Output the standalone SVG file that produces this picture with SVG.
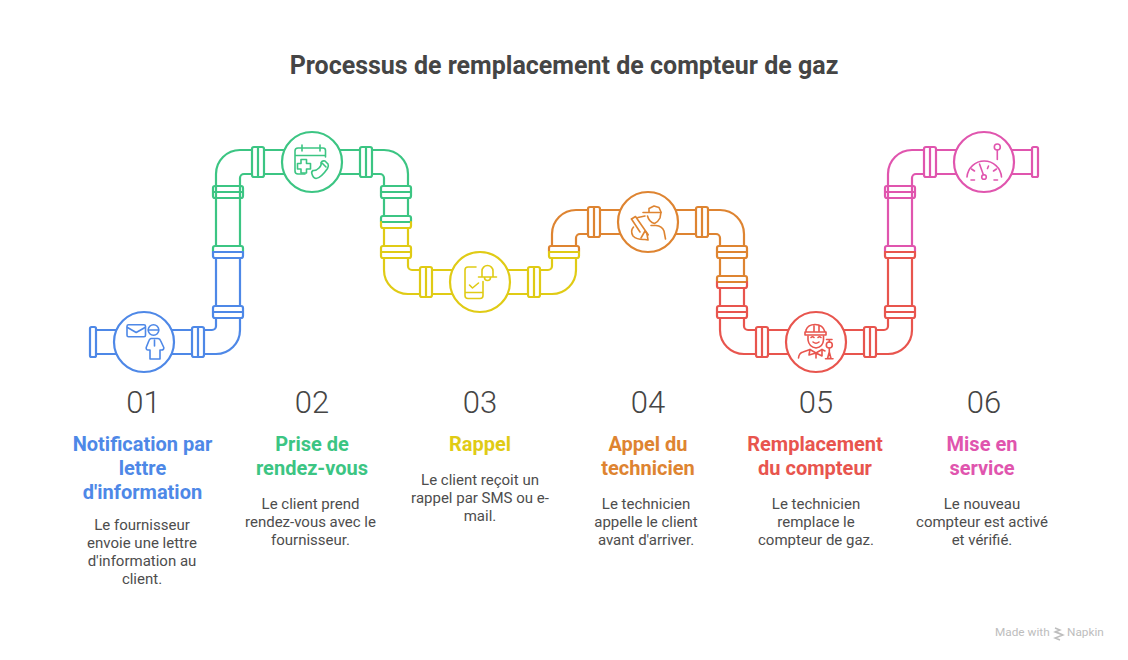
<svg xmlns="http://www.w3.org/2000/svg" width="1128" height="660" viewBox="0 0 1128 660">
<style>
text{font-family:Roboto,"Liberation Sans",sans-serif;text-anchor:middle}
.title{font-size:25px;font-weight:700;fill:#454545}
.num{font-size:31px;font-weight:300;fill:#454545}
.head{font-size:20px;font-weight:700}
.body{font-size:15px;font-weight:400;fill:#4d4d4d}
.mark{font-size:11.800px;fill:#bdbdbd;text-anchor:start}
.pipe,.ic,.disc,.clamp use,.flange{fill:none;stroke-width:2.2;stroke-linecap:round;stroke-linejoin:round}
.disc{fill:#fff}
.blue{stroke:#4e88e7}.green{stroke:#3cc583}.yellow{stroke:#e0cb15}.orange{stroke:#de8431}.red{stroke:#e8554e}.pink{stroke:#e055ae}
.tblue{fill:#4e88e7}.tgreen{fill:#3cc583}.tyellow{fill:#e0cb15}.torange{fill:#de8431}.tred{fill:#e8554e}.tpink{fill:#e055ae}
.ic{stroke-width:1.6}
</style>
<defs>
<g id="cv"><rect x="0" y="0" width="12" height="30" rx="2"/><path d="M6 0V30"/></g>
<g id="ch"><rect x="0" y="0" width="30" height="12" rx="2"/><path d="M0 6H30"/></g>
<path id="ct" d="M0 6V2a2 2 0 0 1 2-2H28a2 2 0 0 1 2 2V6"/>
<path id="cb" d="M0 6V10a2 2 0 0 0 2 2H28a2 2 0 0 0 2-2V6"/>
<path id="cm" d="M0 6H30"/>
</defs>
<rect width="1128" height="660" fill="#fff"/>
<text class="title" x="564" y="74">Processus de remplacement de compteur de gaz</text>
<g id="connectors">
<path class="pipe blue" d="M96 330H192M96 354H192M204 330H212a4 4 0 0 0 4-4V318M204 354H216A24 24 0 0 0 240 330V318M216 306V258M240 306V258"/>
<path class="pipe green" d="M216 246V174A24 24 0 0 1 240 150H252M240 246V178a4 4 0 0 1 4-4H252M264 150H360M264 174H360M372 150H384A24 24 0 0 1 408 174V186M372 174H380a4 4 0 0 1 4 4V186M384 198V216M408 198V216"/>
<path class="pipe yellow" d="M384 228V246M408 228V246M384 258V270A24 24 0 0 0 408 294H420M408 258V266a4 4 0 0 0 4 4H420M432 270H528M432 294H528M540 294H552A24 24 0 0 0 576 270V258M540 270H548a4 4 0 0 0 4-4V258"/>
<path class="pipe orange" d="M552 246V234A24 24 0 0 1 576 210H588M576 246V238a4 4 0 0 1 4-4H588M600 210H696M600 234H696M708 210H720A24 24 0 0 1 744 234V246M708 234H716a4 4 0 0 1 4 4V246M720 258V276M744 258V276"/>
<path class="pipe red" d="M720 288V306M744 288V306M720 318V330A24 24 0 0 0 744 354H756M744 318V326a4 4 0 0 0 4 4H756M768 330H864M768 354H864M876 354H888A24 24 0 0 0 912 330V318M876 330H884a4 4 0 0 0 4-4V318M888 306V258M912 306V258"/>
<path class="pipe pink" d="M888 246V174A24 24 0 0 1 912 150H924M912 246V178a4 4 0 0 1 4-4H924M936 150H1032M936 174H1032"/>
<g class="clamp">
<g class="green"><use href="#ct" x="213" y="246"/><use href="#ch" x="213" y="186"/><use href="#cv" x="252" y="147"/><use href="#cv" x="360" y="147"/><use href="#ch" x="381" y="186"/><use href="#ct" x="381" y="216"/><use href="#cm" x="381" y="216"/></g>
<g class="blue"><rect class="flange" x="90" y="327" width="6" height="30" rx="1.500"/><use href="#cv" x="192" y="327"/><use href="#ch" x="213" y="306"/><use href="#cb" x="213" y="246"/><use href="#cm" x="213" y="246"/></g>
<g class="orange"><use href="#ct" x="549" y="246"/><use href="#cv" x="588" y="207"/><use href="#cv" x="696" y="207"/><use href="#ch" x="717" y="246"/><use href="#ct" x="717" y="276"/><use href="#cm" x="717" y="276"/></g>
<g class="yellow"><use href="#cb" x="381" y="216"/><use href="#ch" x="381" y="246"/><use href="#cv" x="420" y="267"/><use href="#cv" x="528" y="267"/><use href="#cb" x="549" y="246"/><use href="#cm" x="549" y="246"/></g>
<g class="pink"><use href="#ct" x="885" y="246"/><use href="#ch" x="885" y="186"/><use href="#cv" x="924" y="147"/><rect class="flange" x="1032" y="147" width="6" height="30" rx="1.500"/></g>
<g class="red"><use href="#cb" x="717" y="276"/><use href="#ch" x="717" y="306"/><use href="#cv" x="756" y="327"/><use href="#cv" x="864" y="327"/><use href="#ch" x="885" y="306"/><use href="#cb" x="885" y="246"/><use href="#cm" x="885" y="246"/></g>
</g>
</g>
<g id="node-01">
<circle class="disc blue" cx="144" cy="342" r="30"/>
<g class="ic blue">
<rect x="127" y="324.800" width="18.500" height="12" rx="1.500"/>
<path d="M127.500 327.500L136.200 332.500L145 327.500"/>
<circle cx="153.500" cy="330" r="5.300"/><path d="M148.500 330H158.500"/>
<path d="M151 338.500H158A3 3 0 0 1 160.500 340.500L163.800 347.500Q164 350 161.500 350H160V359H150V350H148Q146 350 146.200 347.500L149 340.500Q149.500 339 151 338.500Z"/>
<path d="M154.500 340V346"/>
</g>
<text class="num" x="143.500" y="413">01</text>
<text class="head tblue" x="142.500" y="451">Notification par</text>
<text class="head tblue" x="142.500" y="475">lettre</text>
<text class="head tblue" x="142.500" y="499">d'information</text>
<text class="body" x="142" y="530">Le fournisseur</text>
<text class="body" x="142" y="548">envoie une lettre</text>
<text class="body" x="142" y="566">d'information au</text>
<text class="body" x="142" y="584">client.</text>
</g>
<g id="node-02">
<circle class="disc green" cx="312" cy="162" r="30"/>
<g class="ic green">
<path d="M305 174H298a3 3 0 0 1-3-3V151a3 3 0 0 1 3-3H302M302 145V151M302 148H320M320 145V151M320 148H323a2.500 2.500 0 0 1 2.500 2.500V157M295 155.500H325.500"/>
<path d="M301 159.500H306.500V163.500H310.500V169H306.500V173H301V169H297.500V163.500H301Z"/>
<path d="M312 174Q311 172 313 170.500Q316 171 319 168Q322 165 321 162.500Q322 160.500 325 161L328 164Q329 166 327.500 168.500Q321 178 316 178.500Q313 178 312 174Z"/>
<path d="M322 163L326 167"/>
</g>
<text class="num" x="312" y="413">02</text>
<text class="head tgreen" x="312" y="451">Prise de</text>
<text class="head tgreen" x="312" y="475">rendez-vous</text>
<text class="body" x="310.500" y="509">Le client prend</text>
<text class="body" x="310.500" y="527">rendez-vous avec le</text>
<text class="body" x="310.500" y="545">fournisseur.</text>
</g>
<g id="node-03">
<circle class="disc yellow" cx="480" cy="282" r="30"/>
<g class="ic yellow">
<path d="M476 267H468a3 3 0 0 0-3 3V295.500a3 3 0 0 0 3 3H480a3 3 0 0 0 3-3V281.500M465 292.500H483"/>
<path d="M469.500 285L472.500 288L478.500 283"/>
<path d="M478.500 277H496.500M482 277V271a5.500 5.500 0 0 1 11 0V277M484.500 277.500a3 3 0 0 0 6 0"/>
</g>
<text class="num" x="480" y="413">03</text>
<text class="head tyellow" x="480" y="451">Rappel</text>
<text class="body" x="480" y="485">Le client reçoit un</text>
<text class="body" x="480" y="503">rappel par SMS ou e-</text>
<text class="body" x="480" y="521">mail.</text>
</g>
<g id="node-04">
<circle class="disc orange" cx="648" cy="222" r="30"/>
<g class="ic orange">
<path d="M643 212.500H661"/>
<path d="M649 212V208.500L654 206L659 207.500L661 212L660 218Q658 222 654.500 223.500Q649 222 647.500 216"/>
<path d="M651 225.500H656Q662 226 664 231L665.500 239"/>
<path d="M638 217.500L645 216M631.500 219L635.500 216.500L648 234.500"/>
<path d="M631.500 219L640 232M633.500 227Q630 231 633 236Q637 240 645 239.500L648 240L647 234"/>
<path d="M641 238L645 231L648 235"/>
</g>
<text class="num" x="648" y="413">04</text>
<text class="head torange" x="648" y="451">Appel du</text>
<text class="head torange" x="648" y="475">technicien</text>
<text class="body" x="646" y="509">Le technicien</text>
<text class="body" x="646" y="527">appelle le client</text>
<text class="body" x="646" y="545">avant d'arriver.</text>
</g>
<g id="node-05">
<circle class="disc red" cx="816" cy="342" r="30"/>
<g class="ic red">
<path d="M806 332V330Q808 324.500 815 324.500Q823 324.500 825 332M805 332H826V335H805ZM814 325V331M819 325.500V331"/>
<path d="M808 336V340Q809 347 816 348Q823 347 823.500 340V336"/>
<path d="M811 337.500q1.500-1.500 3 0M818 337.500q1.500-1.500 3 0M813 342q3 2.500 6 0"/>
<path d="M798.500 358Q799 353 803 352L810 349.500L816 353L822 349.500L825 351"/>
<path d="M810 349.500L809 355L816 353L822 356L822 349.500M816 353V358"/>
<circle cx="829.300" cy="345" r="3"/>
<path d="M826.500 339.500H832M829.300 340V342M829.300 348V352L831 358.500H827.500L829.300 352M825.500 358.800H833"/>
</g>
<text class="num" x="816" y="413">05</text>
<text class="head tred" x="815" y="451">Remplacement</text>
<text class="head tred" x="815" y="475">du compteur</text>
<text class="body" x="816" y="509">Le technicien</text>
<text class="body" x="816" y="527">remplace le</text>
<text class="body" x="816" y="545">compteur de gaz.</text>
</g>
<g id="node-06">
<circle class="disc pink" cx="984" cy="162" r="30"/>
<g class="ic pink">
<circle cx="997.300" cy="147" r="3"/><path d="M997.300 150V159.500"/>
<path d="M967 177A17.300 17.300 0 0 1 1001.500 177"/>
<circle cx="984" cy="177" r="2.300"/><path d="M979.500 164L983.300 174.500"/>
<path d="M971.500 169L974.500 171M971 180H974.500M988.500 166L987.500 168.500M996.500 169L993.500 171M994 180H997.500"/>
</g>
<text class="num" x="984" y="413">06</text>
<text class="head tpink" x="982" y="451">Mise en</text>
<text class="head tpink" x="982" y="475">service</text>
<text class="body" x="982" y="509">Le nouveau</text>
<text class="body" x="982" y="527">compteur est activé</text>
<text class="body" x="982" y="545">et vérifié.</text>
</g>
<g id="watermark">
<text class="mark" x="995" y="636">Made with</text>
<path d="M1055 628L1060 630L1055 632L1063 635L1055 638L1060 640M1055 631.500L1063 635" fill="none" stroke="#bdbdbd" stroke-width="1.400"/>
<text class="mark" x="1067" y="636">Napkin</text>
</g>
</svg>
